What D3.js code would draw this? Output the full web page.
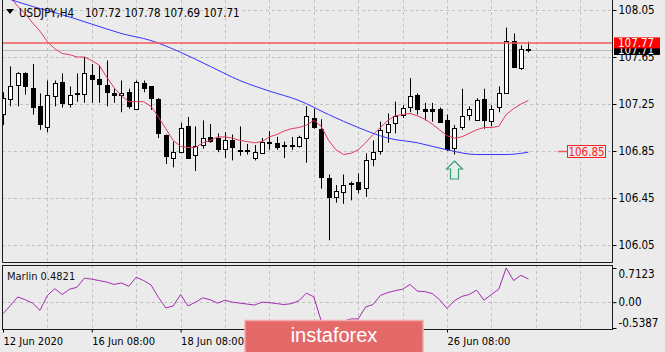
<!DOCTYPE html>
<html>
<head>
<meta charset="utf-8">
<script src="https://cdn.jsdelivr.net/npm/d3@7"></script>
<style>
  body { margin: 0; background: #ebebeb; }
  svg { display: block; font-family: "DejaVu Sans Condensed", "DejaVu Sans", sans-serif; font-stretch: condensed; }
</style>
</head>
<body>
<svg id="chart"></svg>
<script>
const symbol = "USDJPY,H4";

// H4 bars, 12 Jun 2020 08:00 ... 30 Jun 00:00
const barOpen = [
  107.16, 107.29, 107.41, 107.51, 107.39, 107.23, 107.06, 107.32, 107.44, 107.25,
  107.33, 107.33, 107.50, 107.46, 107.41, 107.34, 107.32, 107.35, 107.21, 107.43,
  107.40, 107.29, 106.99, 106.79, 106.85, 107.06, 106.81, 106.90, 106.97, 106.96,
  106.86, 106.94, 106.86, 106.86, 106.79, 106.84, 106.93, 106.92, 106.90, 106.89,
  106.89, 106.96, 107.13, 107.04, 106.62, 106.46, 106.50, 106.58, 106.59, 106.53,
  106.78, 106.85, 107.01, 107.09, 107.16, 107.23, 107.33, 107.21, 107.21, 107.21,
  107.11, 106.88, 107.06, 107.16, 107.11, 107.29, 107.11, 107.22, 107.35, 107.79,
  107.56, 107.72
];
const barHigh = [
  107.35, 107.57, 107.52, 107.52, 107.59, 107.34, 107.45, 107.45, 107.51, 107.40,
  107.51, 107.65, 107.59, 107.58, 107.62, 107.38, 107.45, 107.38, 107.45, 107.45,
  107.40, 107.30, 106.99, 106.93, 107.09, 107.14, 107.06, 107.11, 107.08, 107.00,
  107.01, 106.99, 107.06, 106.91, 106.90, 106.96, 107.02, 106.97, 106.93, 106.97,
  106.98, 107.23, 107.21, 107.12, 106.65, 106.56, 106.65, 106.59, 106.66, 106.83,
  106.94, 107.10, 107.17, 107.27, 107.24, 107.47, 107.34, 107.26, 107.26, 107.22,
  107.16, 107.07, 107.38, 107.23, 107.30, 107.38, 107.24, 107.40, 107.90, 107.85,
  107.75, 107.78
];
const barLow = [
  107.07, 107.23, 107.23, 107.33, 107.16, 107.03, 107.01, 107.23, 107.22, 107.22,
  107.27, 107.26, 107.26, 107.26, 107.23, 107.26, 107.18, 107.21, 107.20, 107.35,
  107.20, 106.96, 106.74, 106.71, 106.83, 106.79, 106.68, 106.87, 106.92, 106.84,
  106.79, 106.77, 106.81, 106.82, 106.77, 106.83, 106.86, 106.86, 106.79, 106.86,
  106.88, 106.75, 107.04, 106.53, 106.09, 106.41, 106.40, 106.43, 106.49, 106.46,
  106.72, 106.82, 106.92, 107.00, 107.13, 107.18, 107.16, 107.11, 107.10, 107.09,
  106.85, 106.82, 107.03, 107.11, 107.11, 107.04, 107.06, 107.18, 107.34, 107.56,
  107.54, 107.69
];
const barClose = [
  107.30, 107.40, 107.51, 107.40, 107.23, 107.08, 107.33, 107.43, 107.26, 107.33,
  107.34, 107.51, 107.47, 107.42, 107.35, 107.32, 107.34, 107.23, 107.44, 107.39,
  107.30, 107.00, 106.81, 106.84, 107.05, 106.79, 106.89, 106.96, 106.94, 106.87,
  106.94, 106.88, 106.85, 106.85, 106.84, 106.93, 106.92, 106.89, 106.89, 106.90,
  106.97, 107.15, 107.05, 106.63, 106.46, 106.51, 106.56, 106.57, 106.53, 106.77,
  106.84, 107.03, 107.08, 107.15, 107.22, 107.32, 107.21, 107.19, 107.19, 107.10,
  106.86, 107.05, 107.15, 107.21, 107.28, 107.11, 107.21, 107.34, 107.79, 107.57,
  107.72, 107.71
];

// red moving average, one value per bar
const maFast = [
  108.24, 108.16, 108.08, 108.02, 107.94, 107.87, 107.78, 107.72, 107.68, 107.67,
  107.65, 107.65, 107.62, 107.58, 107.48, 107.39, 107.32, 107.27, 107.27, 107.27,
  107.23, 107.14, 107.04, 106.94, 106.89, 106.88, 106.88, 106.92, 106.94, 106.97,
  106.97, 106.96, 106.94, 106.93, 106.92, 106.93, 106.97, 106.99, 107.02, 107.04,
  107.05, 107.07, 107.11, 107.06, 106.94, 106.86, 106.82, 106.83, 106.86, 106.92,
  106.99, 107.05, 107.11, 107.15, 107.16, 107.17, 107.15, 107.12, 107.08, 107.03,
  106.98, 106.96, 106.97, 107.00, 107.03, 107.05, 107.05, 107.06, 107.16, 107.21,
  107.25, 107.28
];

// blue moving average, read every few bars
const maSlowBars = [0, 4, 8, 12, 16, 20, 24, 28, 32, 36, 40, 44, 48, 52, 56, 60, 64, 68, 71];
const maSlow = [
  108.16, 108.08, 108.01, 107.93, 107.85, 107.79, 107.69, 107.57, 107.45, 107.36,
  107.28, 107.16, 107.05, 106.96, 106.92, 106.86, 106.82, 106.82, 106.84
];

// Marlin oscillator, one value per bar
const marlin = [
  -0.24, -0.07, 0.11, 0.05, -0.02, -0.17, 0.14, 0.28, 0.16, 0.27,
  0.31, 0.50, 0.48, 0.45, 0.42, 0.37, 0.40, 0.33, 0.52, 0.45,
  0.36, 0.10, -0.12, -0.08, 0.16, -0.08, 0.00, 0.09, 0.05, -0.02,
  0.04, 0.00, -0.02, -0.04, -0.06, 0.00, -0.01, -0.03, -0.05, -0.03,
  0.03, 0.19, 0.11, -0.39, -0.5387, -0.50, -0.40, -0.35, -0.35, -0.10,
  -0.05, 0.14, 0.20, 0.24, 0.27, 0.37, 0.23, 0.22, 0.18, 0.05,
  -0.13, 0.03, 0.12, 0.16, 0.25, 0.04, 0.16, 0.27, 0.7123, 0.45,
  0.56, 0.4821
];

const priceTicks = [106.05, 106.45, 106.85, 107.25, 107.65, 108.05];
const marlinTicks = [0.7123, 0, -0.5387];
const marlinTickLabels = ["0.7123", "0.00", "-0.5387"];
const dateBars = [0, 12, 24, 36, 48, 60];
const dateLabels = ["12 Jun 2020", "16 Jun 08:00", "18 Jun 08:00", "22 Jun 08:00", "24 Jun 08:00", "26 Jun 08:00"];
const gridBars = [6, 12, 18, 24, 30, 36, 42, 48, 54, 60, 66, 72, 78];
const askPrice = 107.77;
const maLevel = 106.85;
const signalBar = 61;

const W = 665, H = 352;
const main = {left: 2, right: 612, top: 0, bottom: 262};
const sub = {left: 2, right: 612, top: 265, bottom: 329};

const svg = d3.select('#chart')
    .attr('width', W)
    .attr('height', H);

svg.append('rect').attr('width', W).attr('height', H).attr('fill', '#ebebeb');

const x = d3.scaleLinear().domain([0, 82.3]).range([3, 612]);
const y = d3.scaleLinear().domain([106.05, 108.05]).range([245, 10]);
const ym = d3.scaleLinear().domain(d3.extent(marlin)).range([328, 268]);
const cx = i => Math.round(x(i)) + 0.5;

const defs = svg.append('defs');
defs.append('clipPath').attr('id', 'clipMain').append('rect')
    .attr('x', main.left).attr('y', main.top)
    .attr('width', main.right - main.left).attr('height', main.bottom - main.top);
defs.append('clipPath').attr('id', 'clipSub').append('rect')
    .attr('x', sub.left).attr('y', sub.top)
    .attr('width', sub.right - sub.left).attr('height', sub.bottom - sub.top);

// ---- main panel
const gMain = svg.append('g').attr('clip-path', 'url(#clipMain)');

gMain.selectAll('.vgrid')
    .data(gridBars)
    .join('line')
    .attr('class', 'vgrid')
    .attr('x1', d => cx(d)).attr('x2', d => cx(d))
    .attr('y1', main.top).attr('y2', main.bottom)
    .attr('stroke', '#c2c2c2')
    .attr('stroke-dasharray', '3,3');

gMain.selectAll('.hgrid')
    .data(priceTicks)
    .join('line')
    .attr('class', 'hgrid')
    .attr('x1', main.left).attr('x2', main.right)
    .attr('y1', d => Math.round(y(d)) + 0.5).attr('y2', d => Math.round(y(d)) + 0.5)
    .attr('stroke', '#c2c2c2')
    .attr('stroke-dasharray', '3,3');

// bid line
const bid = barClose[barClose.length - 1];
gMain.append('line')
    .attr('x1', main.left).attr('x2', main.right)
    .attr('y1', Math.round(y(bid)) + 0.5).attr('y2', Math.round(y(bid)) + 0.5)
    .attr('stroke', '#bdbdbd');

const bars = d3.range(barOpen.length);
const candles = gMain.selectAll('.candle')
    .data(bars)
    .join('g')
    .attr('class', 'candle');
candles.append('line')
    .attr('x1', cx).attr('x2', cx)
    .attr('y1', i => y(barHigh[i]))
    .attr('y2', i => y(barLow[i]))
    .attr('stroke', '#000');
candles.append('rect')
    .attr('x', i => cx(i) - 2)
    .attr('y', i => Math.round(y(Math.max(barOpen[i], barClose[i]))) + 0.5)
    .attr('width', 4)
    .attr('height', i => Math.max(1, Math.round(Math.abs(y(barOpen[i]) - y(barClose[i])))))
    .attr('fill', i => barClose[i] >= barOpen[i] ? '#fff' : '#000')
    .attr('stroke', '#000');

const lineFast = d3.line().x((d, i) => x(i)).y(d => y(d));
gMain.append('path')
    .datum(maFast)
    .attr('d', lineFast)
    .attr('fill', 'none')
    .attr('stroke', '#e23a5e')
    .attr('stroke-width', 1);

const lineSlow = d3.line().x((d, k) => x(maSlowBars[k])).y(d => y(d)).curve(d3.curveMonotoneX);
gMain.append('path')
    .datum(maSlow)
    .attr('d', lineSlow)
    .attr('fill', 'none')
    .attr('stroke', '#3434ff')
    .attr('stroke-width', 1);

// ask line
gMain.append('line')
    .attr('x1', main.left).attr('x2', main.right)
    .attr('y1', y(askPrice)).attr('y2', y(askPrice))
    .attr('stroke', '#f25a5a')
    .attr('stroke-width', 1.5);

// signal arrow under the bar
const ax = cx(signalBar), at = Math.round(y(barLow[signalBar])) + 6;
gMain.append('path')
    .attr('d', `M${ax},${at} L${ax + 8},${at + 8} L${ax + 4},${at + 8} L${ax + 4},${at + 18} L${ax - 4},${at + 18} L${ax - 4},${at + 8} L${ax - 8},${at + 8} Z`)
    .attr('fill', '#e4f1e8')
    .attr('stroke', '#3f9c7a')
    .attr('stroke-width', 1.2);

// level label
const ly = Math.round(y(maLevel)) + 0.5;
svg.append('line')
    .attr('x1', 558).attr('x2', 567)
    .attr('y1', ly).attr('y2', ly)
    .attr('stroke', '#f25a5a')
    .attr('stroke-width', 1.5);
svg.append('rect')
    .attr('x', 567.5).attr('y', ly - 6).attr('width', 38).attr('height', 12)
    .attr('fill', '#ebebeb')
    .attr('stroke', '#ff2020');
svg.append('text')
    .attr('x', 586.5).attr('y', ly).attr('dy', '0.35em')
    .attr('text-anchor', 'middle')
    .attr('font-size', '11.5px')
    .attr('fill', '#ff2020')
    .text(d3.format('.2f')(maLevel));

// borders
svg.append('path')
    .attr('d', `M${main.left + 0.5},${main.top} V${main.bottom + 0.5} H${main.right + 0.5} V${main.top}`)
    .attr('fill', 'none')
    .attr('stroke', '#1a1a1a');

// price axis
svg.append('g')
    .attr('transform', `translate(${main.right + 0.5},0)`)
    .call(d3.axisRight(y).tickValues(priceTicks).tickFormat(d3.format('.2f')).tickSize(4).tickPadding(2))
    .call(g => g.select('.domain').remove())
    .call(g => g.selectAll('text').attr('font-size', '11.5px').attr('fill', '#000'))
    .attr('font-family', null);

// current price boxes
svg.append('rect')
    .attr('x', 614).attr('y', y(bid) - 4).attr('width', 46).attr('height', 9)
    .attr('fill', '#000');
svg.append('text')
    .attr('x', 618).attr('y', y(bid)).attr('dy', '0.35em')
    .attr('font-size', '11.5px').attr('fill', '#fff')
    .text(d3.format('.2f')(bid));
svg.append('rect')
    .attr('x', 614).attr('y', y(askPrice) - 5.5).attr('width', 46).attr('height', 11)
    .attr('fill', '#ff0000');
svg.append('text')
    .attr('x', 618).attr('y', y(askPrice)).attr('dy', '0.35em')
    .attr('font-size', '11.5px').attr('fill', '#fff')
    .text(d3.format('.2f')(askPrice));

// ---- Marlin panel
const gSub = svg.append('g').attr('clip-path', 'url(#clipSub)');
gSub.selectAll('.vgrid')
    .data(gridBars)
    .join('line')
    .attr('class', 'vgrid')
    .attr('x1', d => cx(d)).attr('x2', d => cx(d))
    .attr('y1', sub.top).attr('y2', sub.bottom)
    .attr('stroke', '#c2c2c2')
    .attr('stroke-dasharray', '3,3');
gSub.append('line')
    .attr('x1', sub.left).attr('x2', sub.right)
    .attr('y1', Math.round(ym(0)) + 0.5).attr('y2', Math.round(ym(0)) + 0.5)
    .attr('stroke', '#c2c2c2')
    .attr('stroke-dasharray', '3,3');
gSub.append('path')
    .datum(marlin)
    .attr('d', d3.line().x((d, i) => x(i)).y(d => ym(d)))
    .attr('fill', 'none')
    .attr('stroke', '#a22cb0')
    .attr('stroke-width', 1);

svg.append('rect')
    .attr('x', sub.left + 0.5).attr('y', sub.top + 0.5)
    .attr('width', sub.right - sub.left).attr('height', sub.bottom - sub.top)
    .attr('fill', 'none')
    .attr('stroke', '#1a1a1a');

svg.append('text')
    .attr('x', 7).attr('y', 280)
    .attr('font-size', '11px')
    .attr('fill', '#111')
    .text(`Marlin ${d3.format('.4f')(marlin[marlin.length - 1])}`);

svg.append('g')
    .attr('transform', `translate(${sub.right + 0.5},0)`)
    .call(d3.axisRight(ym).tickValues(marlinTicks).tickFormat((d, k) => marlinTickLabels[k]).tickSize(4).tickPadding(2))
    .call(g => g.select('.domain').remove())
    .call(g => g.selectAll('text')
        .attr('font-size', '11.5px').attr('fill', '#000')
        .attr('y', (d, k) => [6, 0, -5][k]))
    .attr('font-family', null);

// time axis
svg.append('g')
    .attr('transform', `translate(0,${sub.bottom + 0.5})`)
    .call(d3.axisBottom(x).tickValues(dateBars).tickFormat((d, k) => dateLabels[k]).tickSize(3).tickPadding(5))
    .call(g => g.select('.domain').remove())
    .call(g => g.selectAll('text')
        .attr('text-anchor', 'start')
        .attr('font-size', '11px').attr('fill', '#000'))
    .attr('font-family', null);

// watermark
svg.append('rect')
    .attr('x', 245).attr('y', 320.5).attr('width', 178).attr('height', 40)
    .attr('fill', '#e46a6a')
    .attr('stroke', '#f2aaaa')
    .attr('stroke-width', 1.5);
svg.append('text')
    .attr('x', 334).attr('y', 342)
    .attr('text-anchor', 'middle')
    .attr('font-family', '"Liberation Sans", Arial, sans-serif')
    .attr('font-stretch', 'normal')
    .attr('font-size', '20px')
    .attr('fill', '#fff')
    .text('instaforex');

// title
svg.append('path')
    .attr('d', 'M6,9 L14,9 L10,14 Z')
    .attr('fill', '#000');
svg.append('text')
    .attr('x', 19).attr('y', 17)
    .attr('font-size', '11.5px')
    .attr('fill', '#000')
    .text(symbol);
const last = barOpen.length - 1;
svg.append('text')
    .attr('x', 85).attr('y', 17)
    .attr('font-size', '11.5px')
    .attr('fill', '#000')
    .text([barOpen[last], barHigh[last], barLow[last], barClose[last]].map(d3.format('.2f')).join(' '));
</script>
</body>
</html>
